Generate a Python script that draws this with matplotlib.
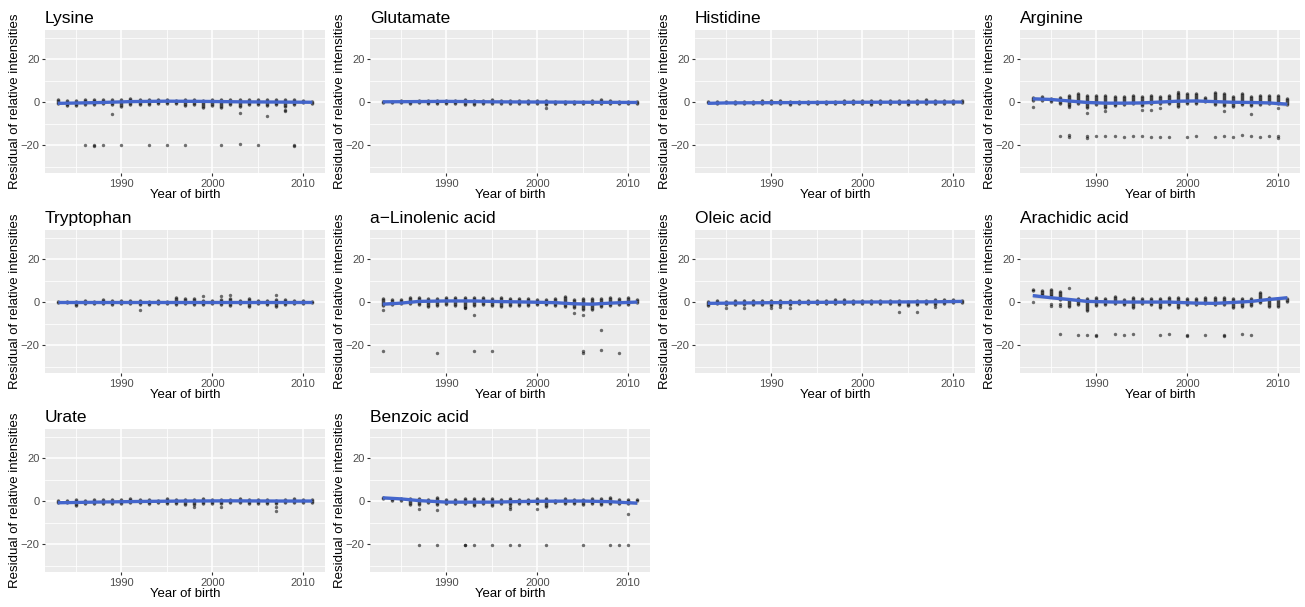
import numpy as np
import matplotlib
matplotlib.use("Agg")
import matplotlib.pyplot as plt

plt.rcParams['font.family'] = ['Liberation Sans', 'DejaVu Sans']

years = list(range(1983, 2012))

titles = ["Lysine", "Glutamate", "Histidine", "Arginine",
          "Tryptophan", "a\u2212Linolenic acid", "Oleic acid", "Arachidic acid",
          "Urate", "Benzoic acid"]

# ---- per-panel strip ranges (low / high residual per birth year) ----
lysine_lo = [-1, -2, -2, -1.5, -1.5, -1, -1.5, -2.5, -1.5, -1.5, -1.5, -1, -1, -1, -2, -1.5, -3, -2, -3, -1.5, -2.5, -1.5, -1.5, -2, -1.5, -2.5, -1.5, -0.5, -1]
lysine_hi = [1.5, 1, 1, 1.5, 1.5, 1.5, 1.5, 1.5, 2, 1.5, 1.5, 1.5, 1.5, 1, 1.5, 1.5, 1, 1.5, 1.5, 1.5, 1.5, 1.5, 1.5, 1.5, 1.5, 1.5, 1.5, 1, 0.5]
lysine_out_x = [1986, 1987, 1987, 1988, 1990, 1993, 1995, 1997, 2001, 2003, 2005, 2009, 2009, 1989, 2003, 2006, 2008, 2008]
lysine_out_y = [-20, -20, -20.3, -20, -20, -20, -20, -20, -20, -19.5, -20, -20, -20.3, -5.5, -5, -6.5, -3.5, -4]
lysine_fit_x = [1983, 1987, 1991, 1995, 1999, 2003, 2007, 2011]
lysine_fit_y = [-0.6, -0.3, 0.2, 0.4, 0.3, 0.1, 0.0, -0.1]

glutamate_lo = [-0.5, -0.5, -0.5, -1, -0.5, -1, -0.8, -0.8, -0.8, -1.5, -1.2, -1, -1, -1, -1, -1, -1, -1, -1.5, -1, -1, -1, -1, -1, -1, -1, -1, -1, -1]
glutamate_hi = [0.5, 0.5, 0.8, 0.5, 1, 0.8, 0.8, 0.8, 1, 1.2, 1, 0.8, 1.5, 1, 1, 0.8, 0.8, 0.8, 0.8, 0.5, 0.5, 0.5, 0.5, 0.8, 1.5, 1, 0.5, 0.5, 0.5]
glutamate_out_x = [2001]
glutamate_out_y = [-3]
glutamate_fit_x = [1983, 1990, 1995, 2000, 2005, 2011]
glutamate_fit_y = [0.1, 0.3, 0.1, 0.0, -0.1, -0.2]

histidine_lo = [-0.5, -0.8, -0.5, -1, -0.8, -0.8, -1, -1, -0.8, -1.2, -1, -0.8, -0.8, -0.8, -0.8, -0.8, -0.8, -0.8, -1.5, -1, -1, -1, -1.5, -1, -1, -1, -1, -0.8, -0.5]
histidine_hi = [0.5, 0.3, 0.3, 0.5, 0.5, 0.5, 0.8, 1, 1, 0.5, 0.5, 0.5, 0.5, 0.5, 0.5, 0.8, 0.8, 1, 1, 0.8, 0.8, 1, 1, 1, 1.5, 1, 0.8, 0.8, 1]
histidine_out_x = []
histidine_out_y = []
histidine_fit_x = [1983, 1985, 1990, 2000, 2011]
histidine_fit_y = [-0.6, -0.4, -0.3, -0.1, 0.0]

arginine_lo = [0.5, 0.5, 0, -1, -2, -1, -3, -1.5, -3, -2, -1.5, -1, -2, -1, -1, -1, -2.5, -1, -1, 0, -1.5, -2, -2.5, -1.5, -2, -1.5, -1, -1, -1.5]
arginine_hi = [2.5, 3, 2, 2.5, 3.5, 4, 3.5, 3.5, 3.5, 3, 3, 3.5, 3, 3.5, 3, 3.5, 4, 4, 4, 2.5, 4.5, 4, 3, 4, 3, 3.5, 3.5, 3.5, 2]
arginine_out_x = [1986, 1987, 1987, 1989, 1989, 1990, 1991, 1992, 1993, 1994, 1995, 1996, 1997, 1998,
                  2000, 2001, 2003, 2004, 2005, 2006, 2007, 2008, 2009, 2010, 2010,
                  1983, 1987, 1989, 1991, 1995, 1996, 1997, 2004, 2007, 2010, 1999]
arginine_out_y = [-16, -15.5, -16.3, -16, -16.6, -15.6, -16, -16, -16.3, -15.8, -16, -16.3, -16.2, -16.2,
                  -16.2, -15.8, -16.3, -16, -16.2, -15.5, -16, -16.3, -15.8, -16, -16.5,
                  -2.5, -2.5, -5, -4, -3.5, -3.5, -3, -4, -5.5, -3, 4.5]
arginine_fit_x = [1983, 1985, 1987, 1989, 1991, 1993, 1995, 1997, 1999, 2001, 2003, 2005, 2007, 2009, 2011]
arginine_fit_y = [1.5, 1.2, 0.5, -0.2, -0.5, -0.5, -0.4, 0.0, 0.4, 0.5, 0.2, -0.1, -0.2, -0.4, -1.0]

tryptophan_lo = [-0.3, -0.5, -2, -0.8, -0.8, -0.8, -1.5, -1, -1, -1.5, -1.5, -0.8, -0.8, -1.5, -1, -1.5, -1.5, -0.8, -1.5, -2, -0.8, -2.5, -1, -1.5, -2.5, -1.5, -1, -0.8, -0.5]
tryptophan_hi = [0.3, 0.5, 0.5, 0.8, 0.5, 1.5, 0.8, 1, 1, 1, 0.5, 0.8, 0.5, 2.5, 2, 2, 0.8, 1, 1.5, 2, 0.8, 2, 0.8, 0.8, 1.5, 1.5, 0.8, 0.8, 0.5]
tryptophan_out_x = [1992, 1999, 2001, 2002, 2007]
tryptophan_out_y = [-3.5, 2.8, 3, 3.5, 3.2]
tryptophan_fit_x = [1983, 2011]
tryptophan_fit_y = [0.0, 0.0]

linolenic_lo = [-2, -1.5, -1, -1, -1.5, -2.5, -2, -1.5, -2, -3, -2, -1.5, -2, -2.5, -2, -2, -2, -1.5, -1.5, -2, -2.5, -3, -3.5, -3.5, -2.5, -2, -1.5, -1.5, -0.5]
linolenic_hi = [2, 1.5, 1.5, 2.5, 2.5, 2, 2, 2.5, 2.5, 2.5, 2.5, 2.5, 2, 2.5, 2, 2, 2, 1.5, 1.5, 2, 3, 1.5, 2, 2, 2, 2.5, 2, 2.5, 1.5]
linolenic_out_x = [1983, 1989, 1993, 1995, 2005, 2005, 2007, 2009, 2007, 1993, 1983, 2005, 2004, 1992]
linolenic_out_y = [-23, -23.5, -23, -23, -23, -23.5, -22.5, -23.5, -13, -6, -3.5, -6, -5, -3]
linolenic_fit_x = [1983, 1985, 1987, 1990, 1993, 1996, 1999, 2002, 2004, 2006, 2008, 2011]
linolenic_fit_y = [-1.0, -0.5, 0.3, 0.5, 0.5, 0.2, 0.0, -0.3, -0.8, -1.0, -0.5, 0.0]

oleic_lo = [-2, -0.8, -1.5, -1.5, -1.5, -1.5, -1.5, -2, -1.5, -1.5, -1, -1, -1, -1, -1, -1, -1, -1, -1, -1, -1, -1.5, -2, -1.5, -1, -1.5, -1, -0.5, -0.5]
oleic_hi = [0.3, 0.8, 0.5, 1, 1, 1, 1, 1, 1, 1, 0.8, 1, 1, 1, 1.3, 1.3, 1, 1, 1, 1, 1, 0.8, 0.5, 0.8, 1, 1.3, 1.3, 1.5, 1]
oleic_out_x = [1985, 1987, 1990, 1991, 1992, 2004, 2006, 2008]
oleic_out_y = [-3, -3, -3, -2.5, -3, -4.5, -4.5, -2.5]
oleic_fit_x = [1983, 1990, 2000, 2008, 2011]
oleic_fit_y = [-0.6, -0.3, 0.0, 0.1, 0.3]

arachidic_lo = [5, 3.5, 3, 1, -2.5, -1.5, -4, -2, -1.5, -1, -1.5, -3, -1, -1.5, -3, -1.5, -3, -1.5, -1.5, -1, -1.5, -1.5, -3, -2.5, -2, -0.5, -2.5, -2.5, 0]
arachidic_hi = [6, 5.5, 6, 5, 1.5, 2, 2, 2.5, 2, 3, 1.5, 2.5, 2, 2, 2, 2.5, 2.5, 2, 2, 2.5, 2.5, 2.5, 2, 2, 2, 4.5, 2.5, 2, 2]
arachidic_out_x = [1983, 1985, 1985, 1986, 1986, 1987, 1986, 1988, 1989, 1990, 1990, 1992, 1993, 1994, 1997, 1998,
                   2000, 2000, 2002, 2004, 2004, 2006, 2007]
arachidic_out_y = [0, -1, -2, -1, -2, 6.5, -15, -15.3, -15.3, -15.2, -15.7, -15, -15.3, -15, -15.3, -15,
                   -15.2, -15.7, -15.3, -15.3, -15.7, -15, -15.3]
arachidic_fit_x = [1983, 1985, 1987, 1989, 1992, 1995, 1998, 2001, 2003, 2005, 2007, 2009, 2011]
arachidic_fit_y = [3.0, 2.0, 1.2, 0.3, 0.0, 0.0, 0.0, -0.5, -0.6, -0.2, 0.3, 1.2, 2.0]

urate_lo = [-1, -1, -2.5, -1.5, -1.5, -1.5, -1.5, -1.5, -1, -1, -1.5, -1, -1.5, -1.5, -2, -2, -1.5, -1.5, -1.5, -1, -1, -1.5, -1.5, -1.5, -1.5, -1, -1, -1, -1]
urate_hi = [0.5, 0.5, 1, 0.5, 1, 1, 1, 1, 1.5, 1, 1, 0.5, 1.5, 1, 1, 1, 1.5, 1, 1, 1, 1.5, 1, 0.8, 0.8, 0.5, 0.8, 1.5, 1, 0.8]
urate_out_x = [2007, 1998, 2001, 2007]
urate_out_y = [-4.5, -3, -3, -3]
urate_fit_x = [1983, 1987, 1992, 1997, 2002, 2007, 2011]
urate_fit_y = [-0.8, -0.5, -0.2, 0.0, 0.1, 0.0, 0.0]

benzoic_lo = [1, 0, 0, -2, -2, -1, -2, -1.5, -1.5, -1.5, -2.5, -1.5, -2.5, -1.5, -2, -1.5, -1.5, -1.5, -3, -1, -1.5, -1.5, -2, -1.5, -2, -1.5, -1.5, -1.5, 0]
benzoic_hi = [2, 1.5, 1.5, 1.5, 1.5, 1, 2, 1, 1, 1.5, 1.5, 1.5, 1.5, 1, 1.5, 1, 1, 1.5, 1.5, 0.5, 1.5, 1, 1, 1.5, 1.5, 2, 1, 1, 1]
benzoic_out_x = [1987, 1989, 1992, 1992, 1993, 1995, 1997, 1998, 2001, 2005, 2008, 2009, 2010,
                 1987, 1989, 1997, 1997, 2000, 2010]
benzoic_out_y = [-20.5, -20.5, -20.3, -20.6, -20.3, -20.3, -20.5, -20.3, -20.3, -20.5, -20.3, -20.5, -20.5,
                 -3.5, -4, -3.5, -2.8, -3.5, -6]
benzoic_fit_x = [1983, 1985, 1987, 1990, 1995, 2000, 2005, 2008, 2011]
benzoic_fit_y = [1.5, 1.0, 0.2, -0.5, -0.5, -0.1, 0.0, -0.3, -1.0]

panels = [
    (lysine_lo, lysine_hi, lysine_out_x, lysine_out_y, lysine_fit_x, lysine_fit_y),
    (glutamate_lo, glutamate_hi, glutamate_out_x, glutamate_out_y, glutamate_fit_x, glutamate_fit_y),
    (histidine_lo, histidine_hi, histidine_out_x, histidine_out_y, histidine_fit_x, histidine_fit_y),
    (arginine_lo, arginine_hi, arginine_out_x, arginine_out_y, arginine_fit_x, arginine_fit_y),
    (tryptophan_lo, tryptophan_hi, tryptophan_out_x, tryptophan_out_y, tryptophan_fit_x, tryptophan_fit_y),
    (linolenic_lo, linolenic_hi, linolenic_out_x, linolenic_out_y, linolenic_fit_x, linolenic_fit_y),
    (oleic_lo, oleic_hi, oleic_out_x, oleic_out_y, oleic_fit_x, oleic_fit_y),
    (arachidic_lo, arachidic_hi, arachidic_out_x, arachidic_out_y, arachidic_fit_x, arachidic_fit_y),
    (urate_lo, urate_hi, urate_out_x, urate_out_y, urate_fit_x, urate_fit_y),
    (benzoic_lo, benzoic_hi, benzoic_out_x, benzoic_out_y, benzoic_fit_x, benzoic_fit_y),
]
# confidence band half-width at the ends / middle of the fit
ribbon_end = [0.5, 0.3, 0.3, 1.0, 0.3, 0.7, 0.3, 1.0, 0.3, 0.6]
ribbon_mid = [0.25, 0.15, 0.15, 0.5, 0.15, 0.35, 0.15, 0.45, 0.15, 0.3]

xticks = [1990, 2000, 2010]
yticks = [-20, 0, 20]

W, H = 1305, 607
fig = plt.figure(figsize=(W / 100, H / 100), dpi=100)
fig.patch.set_facecolor('white')

col_left = [45, 370, 695, 1020]
row_top = [30, 230, 429]
pw, ph = 280, 143

for i, (title, pdata) in enumerate(zip(titles, panels)):
    r, c = divmod(i, 4)
    lo, hi, ox, oy, fx, fy = pdata
    ax = fig.add_axes([col_left[c] / W, 1 - (row_top[r] + ph) / H, pw / W, ph / H])
    ax.set_facecolor('#EBEBEB')
    ax.set_xlim(1981.6, 2012.4)
    ax.set_ylim(-33, 33.5)
    ax.set_xticks(xticks)
    ax.set_yticks(yticks)
    ax.set_xticks([1985, 1995, 2005], minor=True)
    ax.set_yticks([-30, -10, 10, 30], minor=True)
    ax.grid(True, which='major', color='white', linewidth=1.1, zorder=0)
    ax.grid(True, which='minor', color='white', linewidth=0.55, zorder=0)
    ax.set_axisbelow(True)
    for s in ax.spines.values():
        s.set_visible(False)
    ax.tick_params(which='major', length=2.5, width=0.8, color='#333333',
                   labelsize=8, labelcolor='#4D4D4D', pad=1.5)
    ax.tick_params(which='minor', length=0)

    # strips of points per birth year
    ax.vlines(years, lo, hi, colors='black', alpha=0.72, linewidth=2.5, zorder=2)
    ax.scatter(years, lo, s=4, color='black', alpha=0.45, linewidths=0, zorder=2)
    ax.scatter(years, hi, s=4, color='black', alpha=0.45, linewidths=0, zorder=2)
    if len(ox):
        ax.scatter(ox, oy, s=6, color='black', alpha=0.55, linewidths=0, zorder=2)

    # smooth fit with confidence band
    n = len(fx)
    band = [ribbon_end[i] if (k == 0 or k == n - 1) else ribbon_mid[i] for k in range(n)]
    fy_a = np.array(fy, dtype=float)
    ax.fill_between(fx, fy_a - np.array(band), fy_a + np.array(band),
                    color='#999999', alpha=0.4, linewidth=0, zorder=3)
    ax.plot(fx, fy, color='#4466CC', linewidth=2.4, zorder=4, solid_capstyle='butt')

    ax.set_title(title, loc='left', fontsize=12.5, pad=5, color='black')
    ax.set_xlabel('Year of birth', fontsize=9.5, labelpad=0, color='black')
    ax.set_ylabel('Residual of relative intensities', fontsize=9.5, color='black')
    ax.yaxis.set_label_coords(-0.085, 0.5)

fig.savefig('out.png', dpi=100)
